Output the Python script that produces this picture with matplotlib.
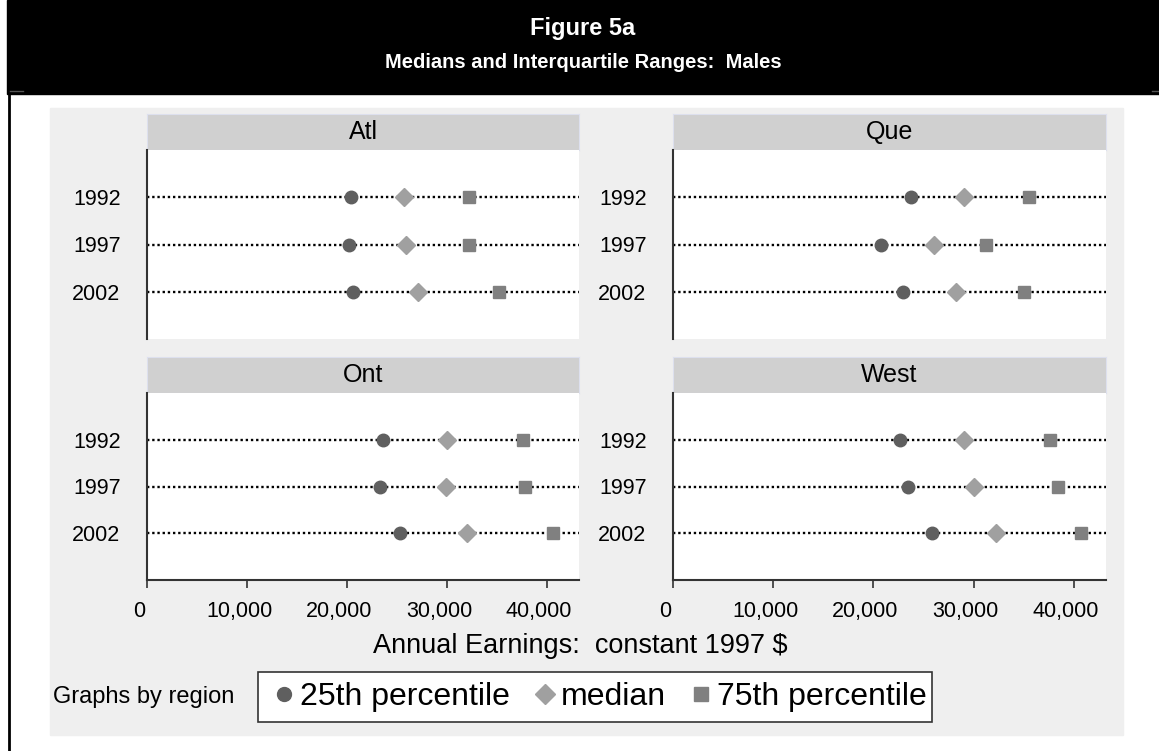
import matplotlib.pyplot as plt
import matplotlib.transforms as mtransforms
from matplotlib.patches import Rectangle
from matplotlib.lines import Line2D

W, H = 1159, 751

# data (annual earnings, constant 1997 $)
regions = ['Atl', 'Que', 'Ont', 'West']
years = ['1992', '1997', '2002']
p25 = [[20400, 20200, 20600],
       [23700, 20800, 22900],
       [23600, 23300, 25300],
       [22600, 23400, 25800]]
med = [[25700, 25900, 27100],
       [29000, 26000, 28200],
       [30000, 29900, 32000],
       [29000, 30000, 32200]]
p75 = [[32200, 32200, 35200],
       [35500, 31200, 35000],
       [37600, 37800, 40600],
       [37600, 38400, 40700]]
xticks = [0, 10000, 20000, 30000, 40000]
xtick_labels = ['0', '10,000', '20,000', '30,000', '40,000']

C25 = '#5f5f5f'
CMED = '#a0a0a0'
C75 = '#808080'

plt.rcParams['font.family'] = ['Liberation Sans', 'DejaVu Sans']


def box(x0, y0, x1, y1):
    # pixel box -> figure fraction [left, bottom, width, height]
    return [x0 / W, 1 - y1 / H, (x1 - x0) / W, (y1 - y0) / H]


fig = plt.figure(figsize=(W / 100, H / 100), dpi=100)

# background pieces
fig.patches.append(Rectangle((7 / W, 1 - 94 / H), 1 - 7 / W, 94 / H,
                             transform=fig.transFigure, color='black', zorder=-2))
fig.add_artist(Line2D([9 / W, 9 / W], [0, 1 - 94 / H], transform=fig.transFigure,
                      color='black', lw=2, zorder=-2))
fig.add_artist(Line2D([10 / W, 23 / W], [1 - 91 / H, 1 - 91 / H], transform=fig.transFigure,
                      color='#555555', lw=1, zorder=-1))
fig.add_artist(Line2D([1152 / W, 1159 / W], [1 - 91 / H, 1 - 91 / H], transform=fig.transFigure,
                      color='#555555', lw=1, zorder=-1))
fig.patches.append(Rectangle((50 / W, 1 - 735 / H), (1123 - 50) / W, (735 - 108) / H,
                             transform=fig.transFigure, color='#efefef', zorder=-2))

fig.text(583 / W, 1 - 28 / H, 'Figure 5a', color='white', fontsize=17,
         fontweight='bold', ha='center', va='center')
fig.text(583 / W, 1 - 62 / H, 'Medians and Interquartile Ranges:  Males', color='white',
         fontsize=14.5, fontweight='bold', ha='center', va='center')

panels = [(147, 579, 114, 150, 339), (673, 1106, 114, 150, 339),
          (147, 579, 357, 393, 580), (673, 1106, 357, 393, 580)]

shift = mtransforms.ScaledTranslation(-8 / 100, 0, fig.dpi_scale_trans)

ypos = [1, 2, 3]
for i, (x0, x1, s0, s1, y1) in enumerate(panels):
    # strip header
    sax = fig.add_axes(box(x0, s0, x1, s1))
    sax.set_facecolor('#d0d0d0')
    for sp in sax.spines.values():
        sp.set_color('#dde0ee')
    sax.set_xticks([])
    sax.set_yticks([])
    sax.text(0.5, 0.5, regions[i], ha='center', va='center', fontsize=18,
             transform=sax.transAxes)

    ax = fig.add_axes(box(x0, s1, x1, y1))
    ax.set_xlim(0, 43200)
    ax.set_ylim(4, 0)
    for y in ypos:
        ax.axhline(y, color='black', ls=(0, (1, 1.2)), lw=1.7, zorder=1)
    ax.plot(p25[i], ypos, 'o', color=C25, ms=9, ls='none', zorder=3)
    ax.plot(med[i], ypos, 'D', color=CMED, ms=9, ls='none', zorder=3)
    ax.plot(p75[i], ypos, 's', color=C75, ms=9, ls='none', zorder=3)
    ax.set_yticks(ypos)
    ax.set_yticklabels(years, fontsize=15.5)
    ax.tick_params(axis='y', length=0, pad=19)
    ax.spines['top'].set_visible(False)
    ax.spines['right'].set_visible(False)
    ax.spines['left'].set_color('#333333')
    ax.spines['left'].set_linewidth(1.5)
    if i >= 2:
        ax.spines['bottom'].set_color('#333333')
        ax.spines['bottom'].set_linewidth(1.5)
        ax.set_xticks(xticks)
        ax.set_xticklabels(xtick_labels, fontsize=15.5)
        ax.tick_params(axis='x', length=6, width=1.2, color='#333333', pad=9)
        for lab in ax.get_xticklabels():
            lab.set_transform(lab.get_transform() + shift)
    else:
        ax.spines['bottom'].set_visible(False)
        ax.set_xticks([])

fig.text(580 / W, 1 - 646 / H, 'Annual Earnings:  constant 1997 $', fontsize=19.5,
         ha='center', va='center')
fig.text(53 / W, 1 - 697 / H, 'Graphs by region', fontsize=17, ha='left', va='center')

# legend box
fig.patches.append(Rectangle((258 / W, 1 - 722 / H), (932 - 258) / W, 50 / H,
                             transform=fig.transFigure, facecolor='white',
                             edgecolor='#333333', lw=1.2, zorder=1))
handles = [Line2D([], [], marker='o', color=C25, ls='none', ms=10),
           Line2D([], [], marker='D', color=CMED, ls='none', ms=10),
           Line2D([], [], marker='s', color=C75, ls='none', ms=10)]
leg = fig.legend(handles, ['25th percentile', 'median', '75th percentile'],
                 loc='center left', bbox_to_anchor=(276 / W, 1 - 697 / H), ncol=3,
                 fontsize=23, frameon=False, handlelength=0.5, borderaxespad=0,
                 handletextpad=0.25, columnspacing=0.85, borderpad=0)
leg.set_zorder(2)

fig.savefig('out.png', dpi=100)
